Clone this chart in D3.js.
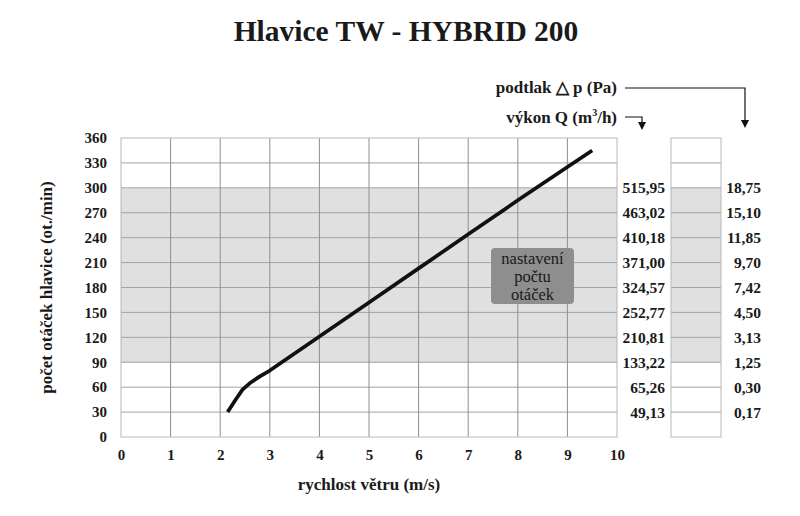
<!DOCTYPE html>
<html>
<head>
<meta charset="utf-8">
<title>Hlavice TW - HYBRID 200</title>
<style>
* { margin: 0; padding: 0; }
html, body { width: 800px; height: 516px; background: #fff; }
svg { display: block; }
text { font-family: "Liberation Serif", "Times New Roman", serif; fill: #1a1a1a; }
</style>
</head>
<body>
<script src="https://cdn.jsdelivr.net/npm/d3@7/dist/d3.min.js"></script>
<script>
// data
var speed = [2.15, 2.3, 2.45, 2.6, 2.8, 3, 4, 5, 6, 7, 8, 9, 9.5];
var rpm   = [30, 44, 57, 65, 73, 80, 121, 162, 203, 244, 285, 325, 345];

var xTicks = [0, 1, 2, 3, 4, 5, 6, 7, 8, 9, 10];
var yTicks = [0, 30, 60, 90, 120, 150, 180, 210, 240, 270, 300, 330, 360];

// right-hand columns, one entry per rpm level
var levels    = [300, 270, 240, 210, 180, 150, 120, 90, 60, 30];
var flowQ     = ["515,95", "463,02", "410,18", "371,00", "324,57", "252,77", "210,81", "133,22", "65,26", "49,13"];
var pressure  = ["18,75", "15,10", "11,85", "9,70", "7,42", "4,50", "3,13", "1,25", "0,30", "0,17"];

var band = [90, 300];   // shaded range "nastavení počtu otáček"

var width = 800, height = 516;
var margin = { top: 138, right: 183, bottom: 79, left: 121 };
var serif = "'Liberation Serif', 'Times New Roman', serif";

var svg = d3.select("body").append("svg")
  .attr("width", width)
  .attr("height", height);

var x = d3.scaleLinear()
  .domain([0, 10])
  .range([margin.left, width - margin.right]);

var y = d3.scaleLinear()
  .domain([0, 360])
  .range([height - margin.bottom, margin.top]);

// small side box for pressure column
var box2 = { left: 671, right: 721 };

// shaded band
svg.append("rect")
  .attr("x", x(0)).attr("y", y(band[1]))
  .attr("width", x(10) - x(0)).attr("height", y(band[0]) - y(band[1]))
  .attr("fill", "#e0e0e0");
svg.append("rect")
  .attr("x", box2.left).attr("y", y(band[1]))
  .attr("width", box2.right - box2.left).attr("height", y(band[0]) - y(band[1]))
  .attr("fill", "#e0e0e0");

// horizontal grid
var grid = svg.append("g").attr("class", "grid");
grid.selectAll("line.h")
  .data(yTicks.filter(d => d > 0 && d < 360))
  .join("line")
  .attr("class", "h")
  .attr("x1", x(0)).attr("x2", x(10))
  .attr("y1", d => y(d)).attr("y2", d => y(d))
  .attr("stroke", "#a3a3a3");
grid.selectAll("line.h2")
  .data(yTicks.filter(d => d > 0 && d < 360))
  .join("line")
  .attr("class", "h2")
  .attr("x1", box2.left).attr("x2", box2.right)
  .attr("y1", d => y(d)).attr("y2", d => y(d))
  .attr("stroke", "#a3a3a3");
// vertical grid
grid.selectAll("line.v")
  .data(xTicks.filter(d => d > 0 && d < 10))
  .join("line")
  .attr("class", "v")
  .attr("x1", d => x(d)).attr("x2", d => x(d))
  .attr("y1", y(0)).attr("y2", y(360))
  .attr("stroke", "#8f8f8f");

// frames
svg.append("rect")
  .attr("x", x(0)).attr("y", y(360))
  .attr("width", x(10) - x(0)).attr("height", y(0) - y(360))
  .attr("fill", "none").attr("stroke", "#b8b8b8");
svg.append("rect")
  .attr("x", box2.left).attr("y", y(360))
  .attr("width", box2.right - box2.left).attr("height", y(0) - y(360))
  .attr("fill", "none").attr("stroke", "#b8b8b8");

// axes (labels only)
svg.append("g")
  .attr("class", "y-axis")
  .attr("transform", `translate(${margin.left},0)`)
  .call(d3.axisLeft(y).tickValues(yTicks).tickSize(0).tickPadding(14))
  .call(g => g.select(".domain").remove())
  .call(g => g.selectAll("text")
    .attr("font-family", serif)
    .attr("font-size", 15).attr("font-weight", "bold").attr("fill", "#1a1a1a"));

svg.append("g")
  .attr("class", "x-axis")
  .attr("transform", `translate(0,${height - margin.bottom})`)
  .call(d3.axisBottom(x).tickValues(xTicks).tickSize(0).tickPadding(12))
  .call(g => g.select(".domain").remove())
  .call(g => g.selectAll("text")
    .attr("font-family", serif)
    .attr("font-size", 15).attr("font-weight", "bold").attr("fill", "#1a1a1a"));

// right columns
svg.append("g").selectAll("text")
  .data(levels)
  .join("text")
  .attr("x", 665).attr("y", d => y(d)).attr("dy", "0.35em")
  .attr("text-anchor", "end")
  .attr("font-size", 15.5).attr("font-weight", "bold")
  .text((d, i) => flowQ[i]);
svg.append("g").selectAll("text")
  .data(levels)
  .join("text")
  .attr("x", 761).attr("y", d => y(d)).attr("dy", "0.35em")
  .attr("text-anchor", "end")
  .attr("font-size", 15.5).attr("font-weight", "bold")
  .text((d, i) => pressure[i]);

// curve
var line = d3.line()
  .x((d, i) => x(speed[i]))
  .y((d, i) => y(rpm[i]));
svg.append("path")
  .datum(rpm)
  .attr("d", line)
  .attr("fill", "none")
  .attr("stroke", "#111")
  .attr("stroke-width", 3.7)
  .attr("stroke-linejoin", "round")
  .attr("stroke-linecap", "butt");

// note box
var note = svg.append("g").attr("transform", "translate(491,248)");
note.append("rect")
  .attr("width", 83).attr("height", 56).attr("rx", 4)
  .attr("fill", "#8e8e8e");
note.selectAll("text")
  .data(["nastavení", "počtu", "otáček"])
  .join("text")
  .attr("x", 41.5).attr("y", (d, i) => 16 + i * 18)
  .attr("text-anchor", "middle").attr("font-size", 16.5)
  .attr("fill", "#1a1a1a")
  .text(d => d);

// title
svg.append("text")
  .attr("x", 406).attr("y", 41)
  .attr("text-anchor", "middle")
  .attr("font-size", 29.5).attr("font-weight", "bold")
  .text("Hlavice TW - HYBRID 200");

// axis titles
svg.append("text")
  .attr("x", (x(0) + x(10)) / 2).attr("y", 490)
  .attr("text-anchor", "middle")
  .attr("font-size", 17).attr("font-weight", "bold")
  .text("rychlost větru (m/s)");
svg.append("text")
  .attr("transform", `translate(52,${(y(0) + y(360)) / 2}) rotate(-90)`)
  .attr("text-anchor", "middle")
  .attr("font-size", 17).attr("font-weight", "bold")
  .text("počet otáček hlavice (ot./min)");

// column headers with arrows
svg.append("text")
  .attr("x", 617).attr("y", 93)
  .attr("text-anchor", "end")
  .attr("font-size", 17).attr("font-weight", "bold")
  .text("podtlak △ p (Pa)");
var q = svg.append("text")
  .attr("x", 617).attr("y", 123)
  .attr("text-anchor", "end")
  .attr("font-size", 17).attr("font-weight", "bold");
q.append("tspan").text("výkon Q (m");
q.append("tspan").attr("font-size", 10).attr("dy", -7).text("3");
q.append("tspan").attr("dy", 7).text("/h)");

svg.append("path")
  .attr("d", "M625,88H745V120")
  .attr("fill", "none").attr("stroke", "#111").attr("stroke-width", 1.2);
svg.append("path")
  .attr("d", "M741,120L749,120L745,128Z").attr("fill", "#111");
svg.append("path")
  .attr("d", "M625,117H642V122")
  .attr("fill", "none").attr("stroke", "#111").attr("stroke-width", 1.2);
svg.append("path")
  .attr("d", "M638,122L646,122L642,130Z").attr("fill", "#111");
</script>
</body>
</html>
